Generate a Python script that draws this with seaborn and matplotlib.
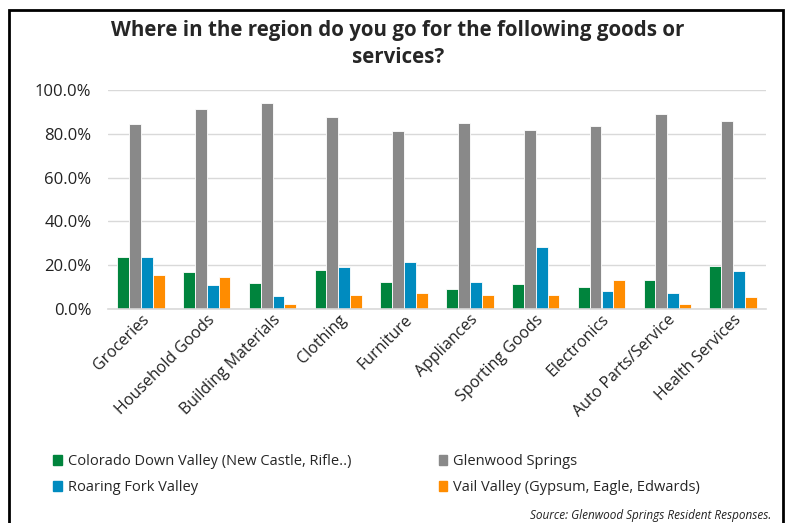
import matplotlib
matplotlib.use("Agg")
import matplotlib.pyplot as plt
import matplotlib.patches as mpatches
from matplotlib.ticker import PercentFormatter
import seaborn as sns
import pandas as pd

categories = ["Groceries", "Household Goods", "Building Materials", "Clothing", "Furniture",
              "Appliances", "Sporting Goods", "Electronics", "Auto Parts/Service", "Health Services"]
series_names = ["Colorado Down Valley (New Castle, Rifle..)", "Glenwood Springs",
                "Roaring Fork Valley", "Vail Valley (Gypsum, Eagle, Edwards)"]
colorado = [23.6, 17.0, 11.9, 17.6, 12.2, 9.3, 11.6, 9.9, 13.4, 19.8]
glenwood = [84.7, 91.3, 94.1, 87.7, 81.5, 85.0, 81.8, 83.4, 89.1, 85.9]
roaring = [23.6, 10.9, 5.8, 19.0, 21.3, 12.3, 28.3, 8.2, 7.3, 17.5]
vail = [15.3, 14.6, 2.1, 6.5, 7.4, 6.5, 6.4, 13.2, 2.3, 5.6]
colors = ["#00843D", "#898989", "#008BBF", "#FF8C00"]

rows = []
for name, vals in zip(series_names, [colorado, glenwood, roaring, vail]):
    for c, v in zip(categories, vals):
        rows.append({"category": c, "series": name, "value": v})
df = pd.DataFrame(rows)

sns.set_theme(style="white")
plt.rcParams["font.family"] = ["Open Sans", "DejaVu Sans"]

fig = plt.figure(figsize=(7.88, 5.23), dpi=100)
ax = fig.add_axes([108/788, 1 - 309/523, (766-108)/788, (309-90)/523])
sns.barplot(data=df, x="category", y="value", hue="series", hue_order=series_names,
            palette=colors, width=0.72, gap=0, edgecolor="white", linewidth=0.6,
            saturation=1, ax=ax, legend=False)
ax.set_ylim(0, 100)
ax.set_yticks([0, 20, 40, 60, 80, 100])
ax.yaxis.set_major_formatter(PercentFormatter(decimals=1))
ax.grid(axis="y", color="#D9D9D9", linewidth=1)
ax.set_axisbelow(True)
for s in ["top", "right", "left"]:
    ax.spines[s].set_visible(False)
ax.spines["bottom"].set_color("#D9D9D9")
ax.spines["bottom"].set_linewidth(1.2)
ax.set_xlabel("")
ax.set_ylabel("")
ax.tick_params(axis="y", labelsize=12, colors="#222222", length=0, pad=12)
ax.tick_params(axis="x", labelsize=11.5, colors="#222222", length=0, pad=2)
plt.setp(ax.get_xticklabels(), rotation=45, ha="right", rotation_mode="anchor")
ax.set_xlim(-0.5, len(categories) - 0.5)

fig.text(0.505, 1 - 44/523, "Where in the region do you go for the following goods or\nservices?",
         ha="center", va="center", fontsize=14.8, fontweight="bold", linespacing=1.4)

handles = [mpatches.Patch(color=c, label=n) for c, n in zip(colors, series_names)]
order = [0, 2, 1, 3]
fig.legend([handles[i] for i in order], [series_names[i] for i in order],
           loc="upper left", bbox_to_anchor=(40/788, 1 - 441/523), ncol=2, frameon=False,
           fontsize=10.5, handlelength=0.6, handleheight=0.6, handletextpad=0.4,
           columnspacing=6.0, labelspacing=0.75)

fig.text(771/788, 1 - 516/523, "Source: Glenwood Springs Resident Responses.", ha="right",
         va="center", fontsize=8.5, style="italic", color="#222222")

fig.patches.append(mpatches.Rectangle((9/788, -0.01), (783-9)/788, 1 - 10/523 + 0.01,
                                      transform=fig.transFigure, fill=False,
                                      edgecolor="black", linewidth=2))
fig.savefig("out.png", dpi=100)
